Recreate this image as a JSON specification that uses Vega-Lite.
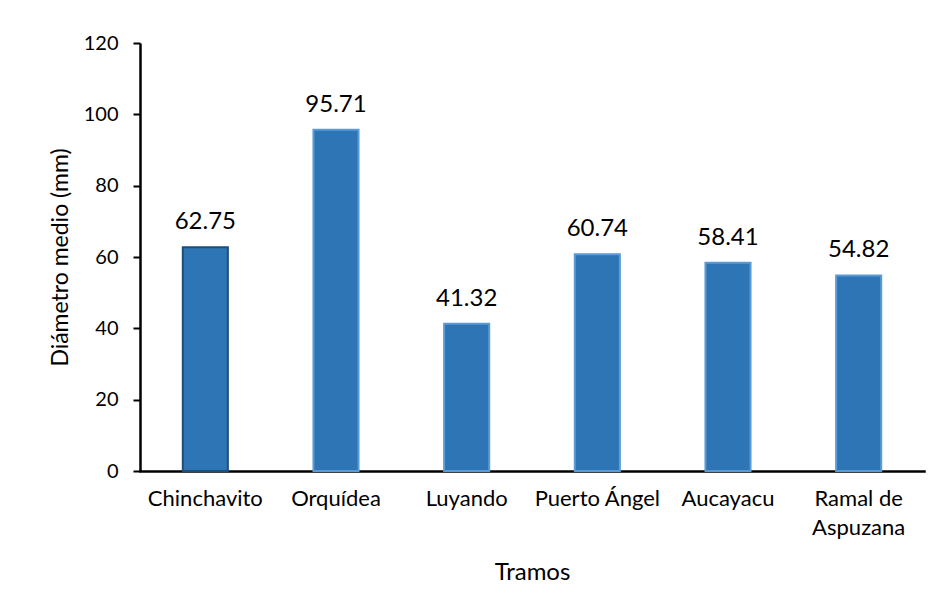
{
  "$schema": "https://vega.github.io/schema/vega-lite/v6.json",
  "autosize": "none",
  "width": 784,
  "height": 428,
  "padding": {"left": 140, "top": 43, "right": 13, "bottom": 141},
  "background": "white",
  "config": {
    "view": {"stroke": null},
    "font": "Lato",
    "axis": {"labelFont": "Lato", "titleFont": "Lato", "labelColor": "#000", "titleColor": "#000", "grid": false}
  },
  "data": {
    "values": [
      {"Tramo": "Chinchavito", "Diametro": 62.75},
      {"Tramo": "Orquídea", "Diametro": 95.71},
      {"Tramo": "Luyando", "Diametro": 41.32},
      {"Tramo": "Puerto Ángel", "Diametro": 60.74},
      {"Tramo": "Aucayacu", "Diametro": 58.41},
      {"Tramo": "Ramal de Aspuzana", "Diametro": 54.82}
    ]
  },
  "encoding": {
    "x": {
      "field": "Tramo",
      "type": "nominal",
      "sort": null,
      "scale": {"paddingInner": 0.655, "paddingOuter": 0.3275},
      "axis": {
        "title": "Tramos",
        "titleFontSize": 24,
        "titleFontWeight": "normal",
        "titleY": 101,
        "titleBaseline": "middle",
        "labelAngle": 0,
        "labelFontSize": 22,
        "labelPadding": 17,
        "labelBaseline": "top",
        "labelLineHeight": 29,
        "labelExpr": "datum.label == 'Ramal de Aspuzana' ? ['Ramal de', 'Aspuzana'] : datum.label",
        "ticks": false,
        "domainColor": "#000",
        "domainWidth": 2.5,
        "domainCap": "square"
      }
    },
    "y": {
      "field": "Diametro",
      "type": "quantitative",
      "scale": {"domain": [0, 120]},
      "axis": {
        "title": "Diámetro medio (mm)",
        "titleFontSize": 23,
        "titleFontWeight": "normal",
        "titleAngle": -90,
        "titleX": -80,
        "titleY": 214,
        "titleAlign": "center",
        "titleBaseline": "middle",
        "values": [0, 20, 40, 60, 80, 100, 120],
        "labelFontSize": 20,
        "labelPadding": 15,
        "tickSize": 7,
        "tickColor": "#000",
        "tickWidth": 2,
        "domainColor": "#000",
        "domainWidth": 2.5
      }
    }
  },
  "layer": [
    {
      "mark": {"type": "bar", "color": "#2E75B6", "strokeWidth": 2},
      "encoding": {
        "stroke": {
          "condition": {"test": "datum.Tramo == 'Chinchavito'", "value": "#1F4E79"},
          "value": "#5B9BD5"
        }
      }
    },
    {
      "mark": {"type": "text", "fontSize": 24, "baseline": "alphabetic", "dy": -18, "color": "#000"},
      "encoding": {
        "text": {"field": "Diametro", "type": "quantitative", "format": ".2f"}
      }
    }
  ]
}
